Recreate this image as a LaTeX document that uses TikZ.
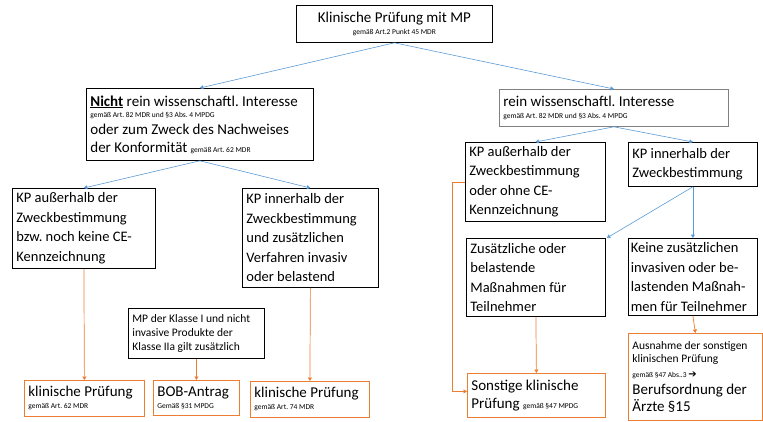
\documentclass[tikz,border=0pt]{standalone}
\usepackage{fontspec}
\setmainfont{Carlito}
\newfontfamily\symfont{DejaVu Sans}
\usetikzlibrary{arrows.meta}
\frenchspacing
\definecolor{bluec}{HTML}{5B9BD5}
\definecolor{orangec}{HTML}{ED7D31}
\definecolor{greyc}{HTML}{808080}
\newcommand\myL{\fontsize{15}{18}\selectfont}
\newcommand\myLL{\fontsize{14.5}{19.5}\selectfont}
\newcommand\myM{\fontsize{11.5}{14}\selectfont}
\newcommand\myS{\fontsize{7.5}{9}\selectfont}
\tikzset{
  box/.style={draw=black, line width=0.8pt, anchor=north west, align=flush left,
    inner xsep=4pt, inner ysep=0pt, font=\myL},
  obox/.style={box, draw=orangec},
  bline/.style={draw=bluec, line width=0.6pt, -{Triangle[width=4pt,length=3.5pt]}},
  oline/.style={draw=orangec, line width=0.7pt, -{Triangle[width=4pt,length=3.5pt]}},
}
\begin{document}
\begin{tikzpicture}[x=1pt,y=-1pt]
\useasboundingbox (0,0) rectangle (763,421);

% top level
\node[box, align=flush center, text width=188pt, minimum height=37pt] (top) at (296,5)
  {Klinische Prüfung mit MP\\[-6pt]{\myS gemäß Art.2 Punkt 45 MDR}};

% second level
\node[box, text width=219pt, minimum height=72pt] (nicht) at (86,88)
  {\underline{\textbf{Nicht}} rein wissenschaftl. Interesse\\[-7pt]
   {\myS gemäß Art. 82 MDR und §3 Abs. 4 MPDG}\\[-1pt]
   oder zum Zweck des Nachweises\\
   der Konformität {\myS gemäß Art. 62 MDR}};
\node[box, draw=greyc, text width=221pt, minimum height=37pt] (rein) at (499,89)
  {rein wissenschaftl. Interesse\\[-6pt]{\myS gemäß Art. 82 MDR und §3 Abs. 4 MPDG}};

% left branch
\node[box, font=\myLL, text width=135pt, minimum height=80pt] (l1) at (12,188)
  {KP außerhalb der\\Zweckbestimmung\\bzw. noch keine CE-\\Kennzeichnung};
\node[box, font=\myLL, text width=128pt, minimum height=99pt] (l2) at (242,188)
  {KP innerhalb der\\Zweckbestimmung\\und zusätzlichen\\Verfahren invasiv\\oder belastend};
\node[box, font=\myM, text width=128pt, minimum height=50pt] (mp) at (128,308)
  {MP der Klasse I und nicht\\invasive Produkte der\\Klasse IIa gilt zusätzlich};

\node[obox, text width=112pt, minimum height=36pt] (b1) at (24,380)
  {klinische Prüfung\\[-6pt]{\myS gemäß Art. 62 MDR}};
\node[obox, text width=78pt, minimum height=35pt] (b2) at (153,380)
  {BOB-Antrag\\[-6pt]{\myS Gemäß §31 MPDG}};
\node[obox, text width=111pt, minimum height=36pt] (b3) at (250,381)
  {klinische Prüfung\\[-6pt]{\myS gemäß Art. 74 MDR}};

% right branch
\node[box, font=\myLL, text width=132pt, minimum height=79pt] (r1) at (465,142)
  {KP außerhalb der\\Zweckbestimmung\\oder ohne CE-\\Kennzeichnung};
\node[box, font=\myLL, text width=121pt, minimum height=44pt] (r2) at (628,142)
  {KP innerhalb der\\Zweckbestimmung};
\node[box, font=\myLL, text width=131pt, minimum height=78pt] (r3) at (466,238)
  {Zusätzliche oder\\belastende\\Maßnahmen für\\Teilnehmer};
\node[box, font=\myLL, inner xsep=2.5pt, text width=124pt, minimum height=77pt] (r4) at (628,238)
  {Keine zusätzlichen\\invasiven oder be-\\lastenden Maßnah-\\men für Teilnehmer};

\node[obox, text width=130pt, minimum height=44pt] (sonst) at (467,373)
  {Sonstige klinische\\Prüfung {\myS gemäß §47 MPDG}};
\node[obox, text width=126pt, minimum height=87pt, font=\fontsize{15}{17}\selectfont] (ausn) at (628,333)
  {{\myM Ausnahme der sonstigen}\\[-4pt]
   {\myM klinischen Prüfung}\\[-2pt]
   {\myS gemäß §47 Abs..3 {\symfont\fontsize{10}{10}\selectfont ➔}}\\
   Berufsordnung der\\
   Ärzte §15};

% blue connectors
\draw[bline] (top.south) -- (nicht.north);
\draw[bline] (top.south) -- (rein.north);
\draw[bline] (nicht.south) -- (l1.north);
\draw[bline] (nicht.south) -- (l2.north);
\draw[bline] (rein.south) -- (r1.north);
\draw[bline] (rein.south) -- (r2.north);
\draw[bline] (r2.south) -- ([xshift=1pt]r3.north east);
\draw[bline] (r2.south) -- (r4.north);

% orange connectors
\draw[oline] (l1.south) -- (b1.north);
\draw[oline] (mp.south) -- (b2.north);
\draw[oline] (l2.south) -- (b3.north);
\draw[oline] (r3.south) -- (sonst.north);
\draw[oline] (r4.south) -- (ausn.north);
\coordinate (bend) at ([xshift=-13pt]r1.west);
\draw[oline] (r1.west) -- (bend) |- ([yshift=4pt]sonst.west);
\end{tikzpicture}
\end{document}
